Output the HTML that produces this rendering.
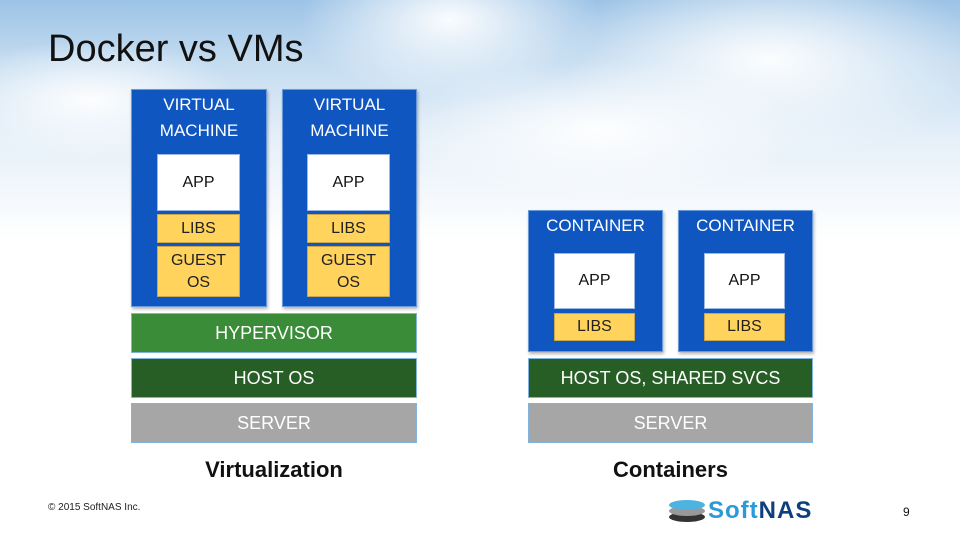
<!DOCTYPE html>
<html><head><style>
body{margin:0}
#p{position:relative;width:960px;height:540px;overflow:hidden;font-family:"Liberation Sans",sans-serif;
background:linear-gradient(180deg,#9cc3e6 0px,#c3dbf0 60px,#e6f0f9 140px,#fff 240px);}
.cl{position:absolute;border-radius:50%;background:radial-gradient(closest-side,rgba(255,255,255,.95),rgba(255,255,255,0));}
.b{position:absolute;box-sizing:border-box;display:flex;align-items:center;justify-content:center;text-align:center;font-size:17px;color:#fff;line-height:22px}
.vm{background:#0f56c0;border:1px solid #6b9ad8;align-items:flex-start;padding-top:2px;font-size:17px;line-height:26px;box-shadow:1px 2px 3px rgba(0,0,0,.3)}
.app{background:#fff;color:#111;border:1px solid #9ab8e0;font-size:16px}
.y{background:#ffd35c;color:#222;border:1px solid #c9a74a;font-size:16px;line-height:22px}
.hv{background:#3a8c38;border:1px solid #7fb3e0;font-size:18px}
.ho{background:#275e26;border:1px solid #7fb3e0;font-size:18px}
.sv{background:#a6a6a6;border:1px solid #7fb3e0;font-size:18px}
.lab{position:absolute;font-weight:bold;font-size:22px;color:#111;text-align:center}
</style></head><body><div id="p">
<div class="cl" style="left:300px;top:-60px;width:300px;height:160px"></div>
<div class="cl" style="left:560px;top:-40px;width:420px;height:200px"></div>
<div class="cl" style="left:-60px;top:40px;width:300px;height:120px"></div>
<div class="cl" style="left:400px;top:60px;width:400px;height:140px"></div>
<div style="position:absolute;left:48px;top:28px;font-size:38px;color:#111">Docker vs VMs</div>

<div class="b vm" style="left:131px;top:89px;width:136px;height:218px">VIRTUAL<br>MACHINE</div>
<div class="b vm" style="left:282px;top:89px;width:135px;height:218px">VIRTUAL<br>MACHINE</div>
<div class="b app" style="left:157px;top:154px;width:83px;height:57px">APP</div>
<div class="b y" style="left:157px;top:214px;width:83px;height:29px">LIBS</div>
<div class="b y" style="left:157px;top:246px;width:83px;height:51px">GUEST<br>OS</div>
<div class="b app" style="left:307px;top:154px;width:83px;height:57px">APP</div>
<div class="b y" style="left:307px;top:214px;width:83px;height:29px">LIBS</div>
<div class="b y" style="left:307px;top:246px;width:83px;height:51px">GUEST<br>OS</div>
<div class="b hv" style="left:131px;top:313px;width:286px;height:40px">HYPERVISOR</div>
<div class="b ho" style="left:131px;top:358px;width:286px;height:40px">HOST OS</div>
<div class="b sv" style="left:131px;top:403px;width:286px;height:40px">SERVER</div>
<div class="lab" style="left:131px;top:457px;width:286px">Virtualization</div>

<div class="b vm" style="left:528px;top:210px;width:135px;height:142px">CONTAINER</div>
<div class="b vm" style="left:678px;top:210px;width:135px;height:142px">CONTAINER</div>
<div class="b app" style="left:554px;top:253px;width:81px;height:56px">APP</div>
<div class="b y" style="left:554px;top:313px;width:81px;height:28px">LIBS</div>
<div class="b app" style="left:704px;top:253px;width:81px;height:56px">APP</div>
<div class="b y" style="left:704px;top:313px;width:81px;height:28px">LIBS</div>
<div class="b ho" style="left:528px;top:358px;width:285px;height:40px">HOST OS, SHARED SVCS</div>
<div class="b sv" style="left:528px;top:403px;width:285px;height:40px">SERVER</div>
<div class="lab" style="left:528px;top:457px;width:285px">Containers</div>

<div style="position:absolute;left:48px;top:502px;font-size:10px;color:#222">© 2015 SoftNAS Inc.</div>
<div style="position:absolute;left:903px;top:505px;font-size:12px;color:#111">9</div>
<svg style="position:absolute;left:668px;top:499px" width="40" height="24">
<ellipse cx="19" cy="18" rx="18" ry="5" fill="#333"/>
<ellipse cx="19" cy="12" rx="18" ry="5" fill="#999"/>
<ellipse cx="19" cy="6" rx="18" ry="5" fill="#4fb3e0"/>
</svg>
<div style="position:absolute;left:708px;top:497px;font-size:24px;font-weight:bold;letter-spacing:1px"><span style="color:#2a9ad8">Soft</span><span style="color:#0d3f7a">NAS</span></div>
</div></body></html>
